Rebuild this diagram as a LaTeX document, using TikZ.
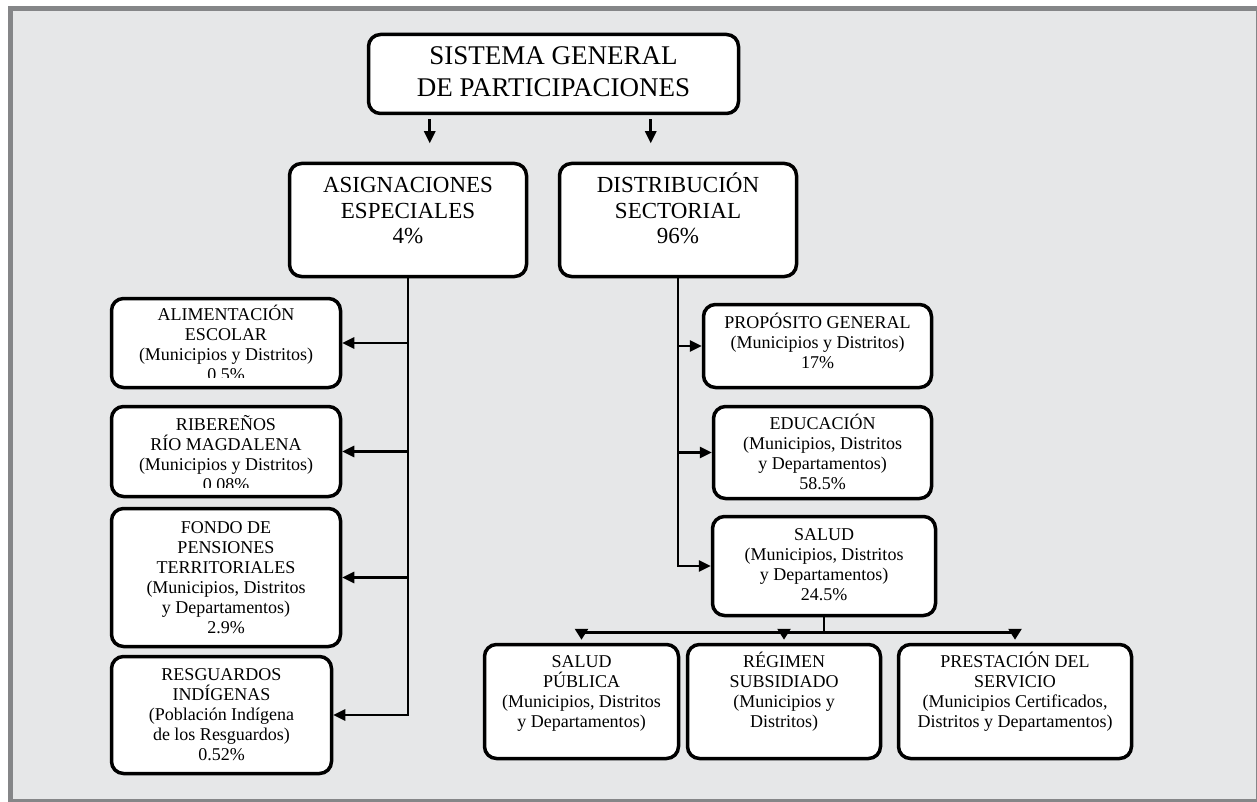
\documentclass[tikz,border=0pt]{standalone}
\usepackage{fontspec}
\setmainfont{Liberation Serif}
\usetikzlibrary{positioning,arrows.meta}

\definecolor{marcogris}{RGB}{133,134,136}
\definecolor{panelgris}{RGB}{230,231,232}

\newcommand{\primera}{\rule{0pt}{1em}}

\tikzset{
  caja/.style={draw, line width=3.5pt, fill=white, rounded corners=12pt, inner sep=0pt},
  txt/.style={inner sep=0pt, align=center},
  grande/.style={txt, font=\fontsize{27}{32}\selectfont},
  media/.style={txt, font=\fontsize{23}{25.5}\selectfont},
  chica/.style={txt, font=\fontsize{18}{20}\selectfont},
  conn/.style={line width=2.6pt, line join=miter},
  flecha/.style={conn, -{Triangle[length=12pt,width=11pt]}},
  flechab/.style={conn, -{Triangle[length=11pt,width=13pt]}, shorten >=3pt},
}

\begin{document}
\begin{tikzpicture}[x=1pt,y=-1pt]
  \useasboundingbox (0,0) rectangle (1257,802);
  % marco
  \fill[marcogris] (8,6) rectangle (1257,802);
  \fill[panelgris] (13,11) rectangle (1256,799);

  % cajas
  \node[caja, minimum width=370pt, minimum height=79pt]  (sgp)   at (553.5,74)  {};
  \node[caja, minimum width=237pt, minimum height=113pt] (asig)  at (408,220)   {};
  \node[caja, minimum width=237pt, minimum height=113pt] (dist)  at (678,220)   {};

  \node[caja, minimum width=229pt, minimum height=89pt]  (alim)  at (226,343)   {};
  \node[caja, minimum width=229pt, minimum height=90pt]  (rib)   at (226,451.5) {};
  \node[caja, minimum width=229pt, minimum height=138pt] (fondo) at (226,577.5) {};
  \node[caja, minimum width=220pt, minimum height=117pt] (resg)  at (221.5,715) {};

  \node[caja, minimum width=228pt, minimum height=83pt]  (prop)  at (817.5,346) {};
  \node[caja, minimum width=218pt, minimum height=92pt]  (edu)   at (822.5,452.5) {};
  \node[caja, minimum width=223pt, minimum height=99pt]  (salud) at (824,566)   {};

  \node[caja, minimum width=194pt, minimum height=114pt] (sp)    at (581.5,701.5) {};
  \node[caja, minimum width=193pt, minimum height=114pt] (reg)   at (784,701.5)   {};
  \node[caja, minimum width=233pt, minimum height=114pt] (pres)  at (1015,701.5)  {};

  % textos
  \node[grande, below=5pt of sgp.north] (sgptxt) {\primera SISTEMA GENERAL\\DE PARTICIPACIONES};
  \node[media, below=8pt of asig.north] (asigtxt) {\primera ASIGNACIONES\\ESPECIALES\\4\%};
  \node[media, below=8pt of dist.north] (disttxt) {\primera DISTRIBUCIÓN\\SECTORIAL\\96\%};

  \begin{scope}
    \clip (alim.north west) rectangle ([yshift=-81pt]alim.north east);
    \node[chica, below=6pt of alim.north] (alimtxt) {\primera ALIMENTACIÓN\\ESCOLAR\\(Municipios y Distritos)\\0.5\%};
  \end{scope}
  \begin{scope}
    \clip (rib.north west) rectangle ([yshift=-83pt]rib.north east);
    \node[chica, below=8pt of rib.north] (ribtxt) {\primera RIBEREÑOS\\RÍO MAGDALENA\\(Municipios y Distritos)\\0.08\%};
  \end{scope}
  \node[chica, below=9pt of fondo.north] (fondotxt) {\primera FONDO DE\\PENSIONES\\TERRITORIALES\\(Municipios, Distritos\\y Departamentos)\\2.9\%};
  \node[chica, below=8pt of resg.north] (resgtxt) {\primera RESGUARDOS\\INDÍGENAS\\(Población Indígena\\de los Resguardos)\\0.52\%};

  \node[chica, below=8pt of prop.north] (proptxt) {\primera PROPÓSITO GENERAL\\(Municipios y Distritos)\\17\%};
  \node[chica, below=7pt of edu.north] (edutxt) {\primera EDUCACIÓN\\(Municipios, Distritos\\y Departamentos)\\58.5\%};
  \node[chica, below=8pt of salud.north] (saludtxt) {\primera SALUD\\(Municipios, Distritos\\y Departamentos)\\24.5\%};

  \node[chica, below=7pt of sp.north] (sptxt) {\primera SALUD\\PÚBLICA\\(Municipios, Distritos\\y Departamentos)};
  \node[chica, below=7pt of reg.north] (regtxt) {\primera RÉGIMEN\\SUBSIDIADO\\(Municipios y\\Distritos)};
  \node[chica, below=7pt of pres.north] (prestxt) {\primera PRESTACIÓN DEL\\SERVICIO\\(Municipios Certificados,\\Distritos y Departamentos)};

  % flechas de arriba
  \draw[flecha] ([xshift=63pt,yshift=-4pt]sgp.south west) -- ++(0,24);
  \draw[flecha] ([xshift=284pt,yshift=-4pt]sgp.south west) -- ++(0,24);

  % asignaciones especiales
  \draw[flecha] (asig.south) -- (asig.south |- resg.east) -- (resg.east);
  \draw[flecha] (asig.south |- alim.east) -- (alim.east);
  \draw[flecha] (asig.south |- rib.east) -- (rib.east);
  \draw[flecha] (asig.south |- fondo.east) -- (fondo.east);

  % distribucion sectorial
  \draw[flecha] (dist.south) -- (dist.south |- salud.west) -- (salud.west);
  \draw[flecha] (dist.south |- prop.west) -- (prop.west);
  \draw[flecha] (dist.south |- edu.west) -- (edu.west);

  % salud
  \draw[conn] (salud.south) -- ++(0,15) coordinate (bus);
  \draw[conn] ([xshift=-1.3pt]bus -| sp.north) -- ([xshift=1.3pt]bus -| pres.north);
  \draw[flechab] (bus -| sp.north) -- (sp.north);
  \draw[flechab] (bus -| reg.north) -- (reg.north);
  \draw[flechab] (bus -| pres.north) -- (pres.north);
\end{tikzpicture}
\end{document}
